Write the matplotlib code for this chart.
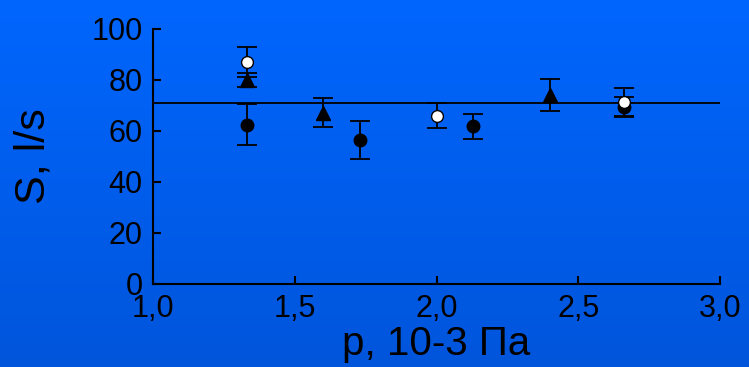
import matplotlib
matplotlib.use("Agg")
import matplotlib.pyplot as plt
import numpy as np
from matplotlib.colors import LinearSegmentedColormap

plt.rcParams["font.family"] = ["Liberation Sans", "DejaVu Sans"]

# filled circles
p_fill = [1.33, 1.73, 2.13, 2.66]
s_fill = [62.5, 56.5, 61.8, 69.3]
e_fill = [8.0, 7.5, 5.0, 4.0]

# open circles
p_open = [1.33, 2.0, 2.66]
s_open = [87.0, 66.0, 71.3]
e_open = [6.0, 5.0, 5.5]

# triangles
p_tri = [1.33, 1.6, 2.4]
s_tri = [80.0, 67.2, 74.0]
e_tri = [2.8, 5.7, 6.2]

s_mean = 71.0

x_ticks = [1.0, 1.5, 2.0, 2.5, 3.0]
x_labels = ["1,0", "1,5", "2,0", "2,5", "3,0"]
y_ticks = [0, 20, 40, 60, 80, 100]

fig = plt.figure(figsize=(7.49, 3.67), dpi=100)

# gradient background
bg = fig.add_axes([0, 0, 1, 1], zorder=-1)
cmap = LinearSegmentedColormap.from_list("bg", ["#0055DB", "#0066FE"])
bg.imshow(np.linspace(0, 1, 256).reshape(-1, 1), aspect="auto", cmap=cmap,
          origin="lower", extent=[0, 1, 0, 1])
bg.axis("off")

ax = fig.add_axes([0.2043, 0.2262, 0.7570, 0.6948])
ax.patch.set_alpha(0)

ax.axhline(s_mean, color="black", lw=1.3, zorder=1)

eb = dict(fmt="none", ecolor="black", elinewidth=1.3, capsize=7, capthick=1.3, zorder=2)
ax.errorbar(p_fill, s_fill, yerr=e_fill, **eb)
ax.errorbar(p_open, s_open, yerr=e_open, **eb)
ax.errorbar(p_tri, s_tri, yerr=e_tri, **eb)

ax.plot(p_fill, s_fill, "o", ms=9, color="black", zorder=3)
ax.plot(p_open, s_open, "o", ms=8.5, mfc="white", mec="black", mew=1, zorder=4)
ax.plot(p_tri, s_tri, "^", ms=10.5, color="black", zorder=3)

ax.set_xlim(1.0, 3.0)
ax.set_ylim(0, 100)
ax.set_xticks(x_ticks)
ax.set_xticklabels(x_labels)
ax.set_yticks(y_ticks)

for side in ["top", "right"]:
    ax.spines[side].set_visible(False)
for side in ["left", "bottom"]:
    ax.spines[side].set_linewidth(1.5)
    ax.spines[side].set_color("black")

ax.tick_params(direction="in", length=6, width=1.5, labelsize=22, colors="black")
ax.tick_params(axis="y", pad=7.5)
ax.tick_params(axis="x", pad=7)

ax.set_xlabel("p, 10-3 Па", fontsize=29, labelpad=1)
ax.set_ylabel("S, l/s", fontsize=31, labelpad=27)

fig.savefig("out.png", dpi=100)
